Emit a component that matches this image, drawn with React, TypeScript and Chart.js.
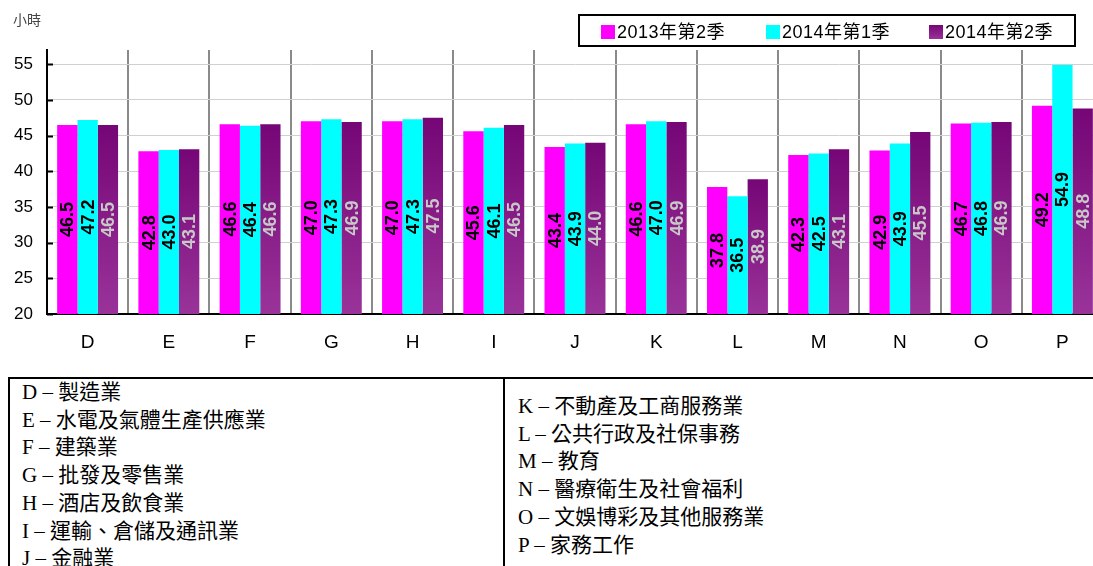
import React, { useEffect, useRef } from 'react';
import { Chart, registerables } from 'chart.js';

Chart.register(...registerables);

const categories = ['D', 'E', 'F', 'G', 'H', 'I', 'J', 'K', 'L', 'M', 'N', 'O', 'P'];
const seriesLabels = ['2013年第2季', '2014年第1季', '2014年第2季'];
const values2013Q2 = [46.5, 42.8, 46.6, 47.0, 47.0, 45.6, 43.4, 46.6, 37.8, 42.3, 42.9, 46.7, 49.2];
const values2014Q1 = [47.2, 43.0, 46.4, 47.3, 47.3, 46.1, 43.9, 47.0, 36.5, 42.5, 43.9, 46.8, 54.9];
const values2014Q2 = [46.5, 43.1, 46.6, 46.9, 47.5, 46.5, 44.0, 46.9, 38.9, 43.1, 45.5, 46.9, 48.8];
const yTicks = [20, 25, 30, 35, 40, 45, 50, 55];
const yMin = 20;
const yMax = 57;
const unitLabel = '小時';
const industriesLeft = [
  'D – 製造業',
  'E – 水電及氣體生產供應業',
  'F – 建築業',
  'G – 批發及零售業',
  'H – 酒店及飲食業',
  'I – 運輸、倉儲及通訊業',
  'J – 金融業',
];
const industriesRight = [
  'K – 不動產及工商服務業',
  'L – 公共行政及社保事務',
  'M – 教育',
  'N – 醫療衛生及社會福利',
  'O – 文娛博彩及其他服務業',
  'P – 家務工作',
];

const SANS = '"Liberation Sans", Arial, "Noto Sans CJK TC", sans-serif';
const labelColors = ['#000000', '#000000', '#c8c8c8'];

function purpleGradient(ctx: CanvasRenderingContext2D, top: number, bottom: number) {
  const g = ctx.createLinearGradient(0, top, 0, bottom);
  g.addColorStop(0, '#760676');
  g.addColorStop(1, '#993399');
  return g;
}

const decorPlugin = {
  id: 'decor',
  afterDatasetsDraw(chart: any) {
    const ctx: CanvasRenderingContext2D = chart.ctx;
    const area = chart.chartArea;
    ctx.save();
    // data labels, centred in the visible part of each bar
    chart.data.datasets.forEach((ds: any, di: number) => {
      const meta = chart.getDatasetMeta(di);
      meta.data.forEach((bar: any, i: number) => {
        const v = ds.data[i];
        const cy = (bar.y + area.bottom) / 2;
        ctx.save();
        ctx.translate(bar.x, cy);
        ctx.rotate(-Math.PI / 2);
        ctx.font = 'bold 18px ' + SANS;
        ctx.fillStyle = labelColors[di];
        ctx.textAlign = 'center';
        ctx.textBaseline = 'middle';
        ctx.fillText(v.toFixed(1), 0, 1);
        ctx.restore();
      });
    });
    // inward y tick marks
    const ys = chart.scales.y;
    ctx.strokeStyle = '#000';
    ctx.lineWidth = 2;
    ys.ticks.forEach((t: any) => {
      const py = Math.round(ys.getPixelForValue(t.value)) + 0.5;
      ctx.beginPath();
      ctx.moveTo(area.left, py);
      ctx.lineTo(area.left + 6, py);
      ctx.stroke();
    });
    ctx.restore();
  },
  afterDraw(chart: any) {
    const ctx: CanvasRenderingContext2D = chart.ctx;
    ctx.save();
    // unit label
    ctx.font = '14px "Noto Sans CJK TC", sans-serif';
    ctx.fillStyle = '#444';
    ctx.textAlign = 'left';
    ctx.textBaseline = 'middle';
    ctx.fillText(unitLabel, 13, 20);
    // legend box
    ctx.strokeStyle = '#000';
    ctx.lineWidth = 2;
    ctx.strokeRect(579, 15, 496, 31);
    const xs = [601, 766, 929];
    const cols = ['#ff00ff', '#00ffff', null];
    chart.data.datasets.forEach((ds: any, i: number) => {
      const x = xs[i];
      ctx.fillStyle = cols[i] || purpleGradient(ctx, 25, 39);
      ctx.fillRect(x, 25, 14, 14);
      ctx.fillStyle = '#000';
      ctx.font = '18px ' + SANS;
      (ctx as any).letterSpacing = '0.5px';
      ctx.textBaseline = 'middle';
      ctx.fillText(ds.label, x + 16, 33);
      (ctx as any).letterSpacing = '0px';
    });
    ctx.restore();
  },
};

export default function App() {
  const ref = useRef<HTMLCanvasElement | null>(null);
  useEffect(() => {
    if (!ref.current) return;
    const chart = new Chart(ref.current, {
      type: 'bar',
      data: {
        labels: categories,
        datasets: [
          { label: seriesLabels[0], data: values2013Q2, backgroundColor: '#ff00ff' },
          { label: seriesLabels[1], data: values2014Q1, backgroundColor: '#00ffff' },
          {
            label: seriesLabels[2],
            data: values2014Q2,
            backgroundColor: (c: any) => {
              const ch = c.chart;
              if (!ch.chartArea || c.type !== 'data' || !ch.scales.y) return '#881888';
              const top = ch.scales.y.getPixelForValue(c.raw);
              return purpleGradient(ch.ctx, top, ch.chartArea.bottom);
            },
          },
        ],
      },
      options: {
        responsive: false,
        animation: false,
        devicePixelRatio: 1,
        layout: { padding: { top: 50, right: 7, left: 0, bottom: 0 } },
        datasets: { bar: { categoryPercentage: 0.75, barPercentage: 1.0 } },
        plugins: { legend: { display: false }, tooltip: { enabled: false } },
        scales: {
          x: {
            offset: true,
            grid: { offset: true, color: '#8a8a8a', lineWidth: 2, drawTicks: false },
            border: { color: '#000', width: 2 },
            ticks: { color: '#000', font: { family: SANS, size: 19 }, padding: 17 },
            afterFit: (s: any) => { s.height = 58; },
          },
          y: {
            min: yMin,
            max: yMax,
            afterBuildTicks: (s: any) => { s.ticks = yTicks.map((v) => ({ value: v })); },
            grid: { color: '#d0d0d0', lineWidth: 1, drawTicks: false },
            border: { color: '#000', width: 2 },
            ticks: { color: '#000', font: { family: SANS, size: 17 }, padding: 14 },
            afterFit: (s: any) => { s.width = 47; },
          },
        },
      },
      plugins: [decorPlugin],
    });
    return () => chart.destroy();
  }, []);

  return (
    <div style={{ position: 'absolute', left: 0, top: 0, width: 1093, height: 566, overflow: 'hidden', background: '#fff' }}>
      <canvas ref={ref} width={1110} height={372} style={{ display: 'block', position: 'absolute', left: 0, top: 0 }} />
      <div
        style={{
          position: 'absolute', left: 8, top: 377, width: 1200, height: 300,
          border: '2px solid #000', display: 'flex',
          fontFamily: '"Liberation Serif", "Times New Roman", "Noto Sans CJK TC", serif',
          fontSize: 21, lineHeight: '27.7px', color: '#000',
        }}
      >
        <div style={{ width: 495, boxSizing: 'border-box', borderRight: '2px solid #000', paddingLeft: 12, paddingTop: 0 }}>
          {industriesLeft.map((t) => <div key={t} style={{ whiteSpace: 'nowrap' }}>{t}</div>)}
        </div>
        <div style={{ paddingLeft: 13, paddingTop: 14 }}>
          {industriesRight.map((t) => <div key={t} style={{ whiteSpace: 'nowrap' }}>{t}</div>)}
        </div>
      </div>
    </div>
  );
}
